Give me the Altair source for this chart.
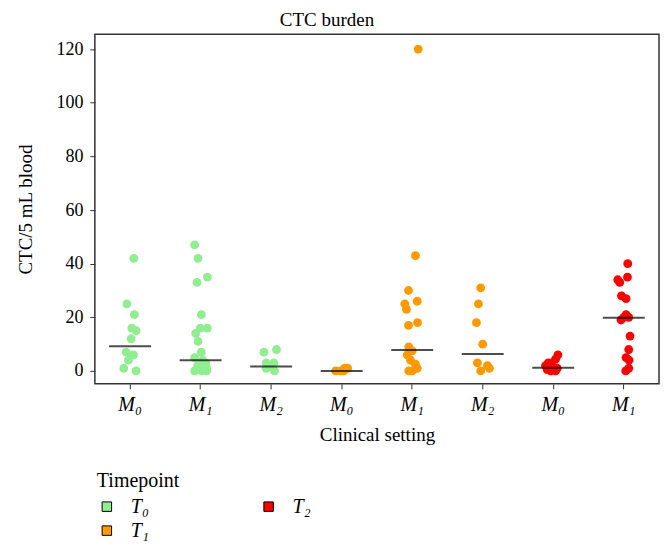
import json
import altair as alt
import pandas as pd

# ---- data ----
setting_labels = ["M₀", "M₁", "M₂", "M₀", "M₁", "M₂", "M₀", "M₁"]
group_timepoint = ["T₀", "T₀", "T₀", "T₁", "T₁", "T₁", "T₂", "T₂"]

g1_vals = [42, 25, 21, 16, 15, 12, 7, 6, 4, 1, 0]
g1_jit = [3.7, -3.3, 4.3, 1.7, 6, 1, -4, 3.3, -1.7, -6.3, 6]
g2_vals = [47, 42, 35, 33, 21, 16, 16, 14, 11, 7, 5, 4, 3, 2, 1, 1, 0, 0, 0]
g2_jit = [-6, -2.6, 6.7, -3.6, 0.7, -0.3, 6.7, -5, -2.6, 0.7, -6, 2, 5, -3, 6, -1, -6, 1, 6]
g3_vals = [8, 7, 3, 3, 2, 1, 0]
g3_jit = [5.3, -7.3, -5, 2.7, -0.7, -5, 3.3]
g4_vals = [0, 0, 1, 1, 0]
g4_jit = [-6, -1, 3, 6, 2]
g5_vals = [120, 43, 30, 26, 25, 23, 18, 17, 9, 7.5, 6, 4, 2.5, 1, 0, 0]
g5_jit = [6, 3.3, -3.7, 5, -7.4, -5.7, 5.3, -3.7, -3.4, 0, -5, -1.7, 3.3, 5, 0, -3.4]
g6_vals = [31, 25, 18, 10, 3, 2, 1, 0]
g6_jit = [-2, -4.3, -6.3, 0, -5.3, 4.7, 6.7, -2]
g7_vals = [6, 4.4, 3, 3, 1, 0.5, 0, 1, 2, 0]
g7_jit = [4.7, 2.3, -1.7, -5, 0.7, -6, -2.7, 4, -7.7, 2.3]
g8_vals = [40, 35, 34, 33, 28, 27, 21, 20, 19, 20, 13, 8, 5, 4, 1, 0]
g8_jit = [4, 3.7, -6, -4, -2.3, 2.3, 2.3, 5, -2.7, 0, 6.3, 5, 2.3, 5.3, 5, 2]

group_medians = [9.2, 4.0, 1.7, 0.0, 7.8, 6.3, 1.2, 19.8]

y_ticks = [0, 20, 40, 60, 80, 100, 120]
legend_order = ["T₀", "T₁", "T₂"]
legend_colors = ["#90EE90", "#FF9900", "#FF0000"]

# ---- build tables ----
all_vals = [g1_vals, g2_vals, g3_vals, g4_vals, g5_vals, g6_vals, g7_vals, g8_vals]
all_jit = [g1_jit, g2_jit, g3_jit, g4_jit, g5_jit, g6_jit, g7_jit, g8_jit]
rows = []
for gi, (vals, jits) in enumerate(zip(all_vals, all_jit)):
    for v, j in zip(vals, jits):
        rows.append({"group": str(gi), "value": v, "jitter": j,
                     "timepoint": group_timepoint[gi]})
points_df = pd.DataFrame(rows)
med_df = pd.DataFrame({"group": [str(i) for i in range(8)],
                       "median": group_medians,
                       "timepoint": group_timepoint})

FONT = "Liberation Serif"
W, H = 565, 350
band = W / 8
group_order = [str(i) for i in range(8)]
label_expr = json.dumps(setting_labels, ensure_ascii=False) + "[toNumber(datum.value)]"

x_enc = alt.X("group:N", sort=group_order,
              scale=alt.Scale(domain=group_order, paddingInner=0, paddingOuter=0),
              axis=alt.Axis(title="Clinical setting", labelExpr=label_expr,
                            labelAngle=0, labelFontStyle="italic",
                            labelFontSize=20, labelPadding=6, titlePadding=11))
y_scale = alt.Scale(domain=[-4.8, 125.5], nice=False, zero=False)
y_enc = alt.Y("value:Q", scale=y_scale,
              axis=alt.Axis(title="CTC/5 mL blood", values=y_ticks,
                            labelFontSize=18, labelPadding=7, titlePadding=20))

points = alt.Chart(points_df).mark_circle(size=78, opacity=1).encode(
    x=x_enc,
    xOffset=alt.XOffset("jitter:Q",
                        scale=alt.Scale(domain=[-band / 2, band / 2], range=[0, band])),
    y=y_enc,
    color=alt.Color("timepoint:N",
                    scale=alt.Scale(domain=legend_order, range=legend_colors),
                    legend=alt.Legend(title="Timepoint", orient="none",
                                      legendX=2, legendY=437, columns=2,
                                      columnPadding=109, rowPadding=4,
                                      symbolType="square", symbolSize=90,
                                      symbolStrokeColor="black", symbolStrokeWidth=1,
                                      labelFontStyle="italic", labelFontSize=20,
                                      titleFontSize=20, titleFontWeight="normal",
                                      titlePadding=6, labelOffset=14)),
)

medians = alt.Chart(med_df).mark_tick(color="black", thickness=2, size=42).encode(
    x=alt.X("group:N", sort=group_order),
    y=alt.Y("median:Q"),
)

chart = alt.layer(points, medians).properties(
    width=W, height=H,
    title=alt.TitleParams("CTC burden", fontSize=19, font=FONT,
                          fontWeight="normal", offset=4, dx=-50),
    padding={"left": 9, "top": 3, "right": 5, "bottom": 5},
).configure(font=FONT).configure_view(
    stroke="#333333", strokeWidth=1.5
).configure_axis(
    domain=False, grid=False, tickColor="#333333", tickSize=5, tickWidth=1,
    labelFont=FONT, titleFont=FONT, labelColor="black", titleColor="black",
    titleFontSize=19, titleFontWeight="normal"
).configure_legend(
    labelFont=FONT, titleFont=FONT, labelColor="black", titleColor="black"
)

chart.save("out.html", embed_options={"renderer": "svg", "actions": False})
